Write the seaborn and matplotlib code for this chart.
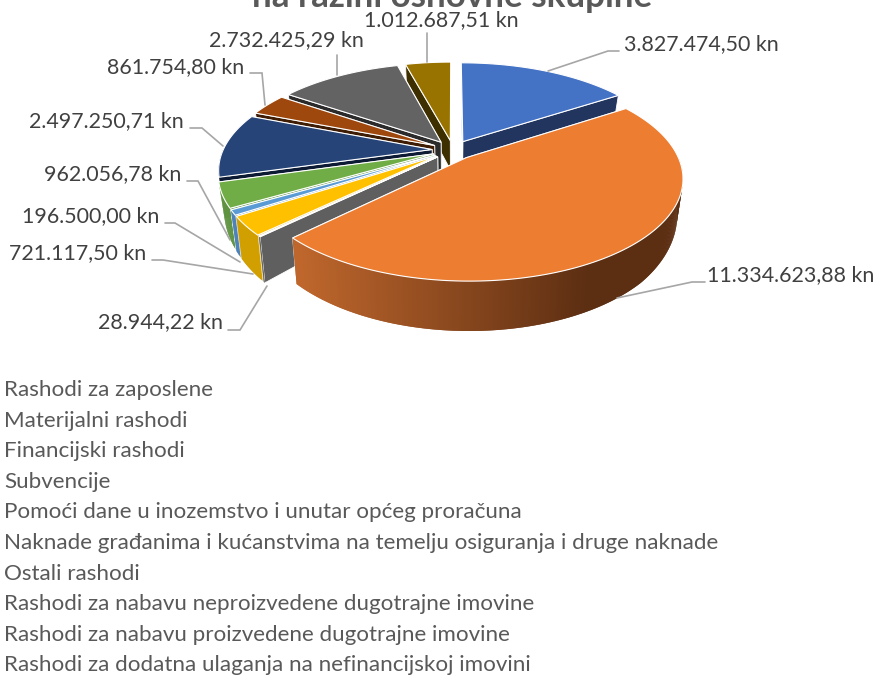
import numpy as np
import matplotlib
matplotlib.use("Agg")
import matplotlib.pyplot as plt
import seaborn as sns
from matplotlib.colors import to_rgb
from matplotlib.patches import Polygon

# data, clockwise from the top of the pie
values = [3827474.50, 11334623.88, 28944.22, 721117.50, 196500.00,
          962056.78, 2497250.71, 861754.80, 2732425.29, 1012687.51]
value_labels = ["3.827.474,50 kn", "11.334.623,88 kn", "28.944,22 kn", "721.117,50 kn",
                "196.500,00 kn", "962.056,78 kn", "2.497.250,71 kn", "861.754,80 kn",
                "2.732.425,29 kn", "1.012.687,51 kn"]
categories = ["Rashodi za zaposlene", "Materijalni rashodi", "Financijski rashodi", "Subvencije",
              "Pomoći dane u inozemstvo i unutar općeg proračuna",
              "Naknade građanima i kućanstvima na temelju osiguranja i druge naknade",
              "Ostali rashodi", "Rashodi za nabavu neproizvedene dugotrajne imovine",
              "Rashodi za nabavu proizvedene dugotrajne imovine",
              "Rashodi za dodatna ulaganja na nefinancijskoj imovini"]
title = "na razini osnovne skupine"

# colours
top_colours = ["#4472C4", "#ED7D31", "#A5A5A5", "#FFC000", "#5B9BD5",
               "#70AD47", "#264478", "#9E480E", "#636363", "#997300"]
wall_colours = ["#22355F", "#5C2E12", "#5F5F5F", "#D29F00", "#4E82B8",
                "#5F9341", "#0C1A33", "#3F1D05", "#2B2B2B", "#3D2F00"]
orange_light = "#BE662C"
orange_dark = "#5C2E12"

# layout, in pixels of the 877x675 picture
label_pos = [(624, 44), (707, 275), (98, 322), (9, 253), (22, 216),
             (44, 174), (29, 121), (107, 67), (209, 40), (364, 20)]
leaders = [[(548, 71), (608, 51), (619, 51)],
           [(617, 298), (692, 282), (705, 282)],
           [(267, 286), (240, 330), (228, 330)],
           [(253, 274), (163, 260), (152, 260)],
           [(240, 262), (175, 223), (165, 223)],
           [(230, 240), (198, 181), (187, 181)],
           [(223, 146), (202, 128), (190, 128)],
           [(265, 105), (262, 73), (250, 73)],
           [(337, 75), (337, 55)],
           [(427, 62), (427, 33)]]
CX, CY = 453, 150
RX, RY = 209, 96.7
PERSP = 0.19


def project(u, v, z=0.0):
    # z=0 is the top of the pie, z=1 its underside
    s = 1 / (1 + PERSP * v)
    depth = np.interp(s, [0.85, 0.98, 1.17, 1.26], [24, 29, 46, 50])
    return CX + RX * u * s * (1 - 0.025 * z), CY - RY * v * s + z * depth


def blend(a, b, t):
    a, b = np.array(to_rgb(a)), np.array(to_rgb(b))
    return tuple(a + (b - a) * t)


sns.set_theme(style="white")
plt.rcParams["font.family"] = ["Lato", "DejaVu Sans"]
palette = sns.color_palette(top_colours)

fig, ax = plt.subplots(figsize=(8.77, 6.75), dpi=100)
ax.set_position([0, 0, 1, 1])

# the pie gives the slice angles and explode centres, then gets redrawn in perspective
wedges, _ = ax.pie(values, startangle=90, counterclock=False, explode=[0.1] * len(values))
slices = [(w.center, w.theta1, w.theta2) for w in wedges]
for w in wedges:
    w.remove()
ax.set_aspect("auto")
ax.set_xlim(0, 877)
ax.set_ylim(675, 0)
ax.axis("off")

mids = [np.sin(np.radians((s[1] + s[2]) / 2)) + s[0][1] for s in slices]
for i in np.argsort(mids)[::-1]:
    (cu, cv), t1, t2 = slices[i]
    ts = np.radians(np.linspace(t1, t2, max(3, int((t2 - t1) * 2))))
    us, vs = cu + np.cos(ts), cv + np.sin(ts)

    # radial faces
    for k in (0, -1):
        face = [project(cu, cv), project(us[k], vs[k]), project(us[k], vs[k], 1), project(cu, cv, 1)]
        ax.add_patch(Polygon(face, closed=True, facecolor=wall_colours[i], edgecolor="white", lw=0.6))

    # outer wall, only where it faces the viewer; each quad runs over the next to hide seams
    steps = [j for j in range(len(ts) - 1) if np.sin(ts[j]) <= 0.0 or np.sin(ts[j + 1]) <= 0.0]
    for j in steps[::-1]:
        colour = wall_colours[i]
        if i == 1:
            frac = np.clip((project(us[j], vs[j])[0] - 300) / 290, 0, 1)
            colour = blend(orange_light, orange_dark, frac)
        end = max(j - 1, steps[0])
        quad = [project(us[end], vs[end]), project(us[j + 1], vs[j + 1]),
                project(us[j + 1], vs[j + 1], 1), project(us[end], vs[end], 1)]
        ax.add_patch(Polygon(quad, closed=True, facecolor=colour, edgecolor="none", lw=0))

    # top surface
    top = [project(cu, cv)] + [project(u, v) for u, v in zip(us, vs)]
    ax.add_patch(Polygon(top, closed=True, facecolor=palette[i], edgecolor="white", lw=0.8))

# leader lines and value labels
for pts, pos, text in zip(leaders, label_pos, value_labels):
    xs, ys = zip(*pts)
    ax.plot(xs, ys, color="#A6A6A6", lw=1.2, solid_joinstyle="miter")
    ax.text(pos[0], pos[1], text, fontsize=15.4, color="#404040", ha="left", va="center")

# the title runs off the top edge in the original too
ax.text(452, 7, title, fontsize=25.2, fontweight="bold", color="#595959", ha="center", va="baseline")

# legend text, the keys are cut off in the original
for n, name in enumerate(categories):
    ax.text(4, 390 + n * 30.6, name, fontsize=16.1, color="#595959", ha="left", va="center")

fig.savefig("out.png", dpi=100)
